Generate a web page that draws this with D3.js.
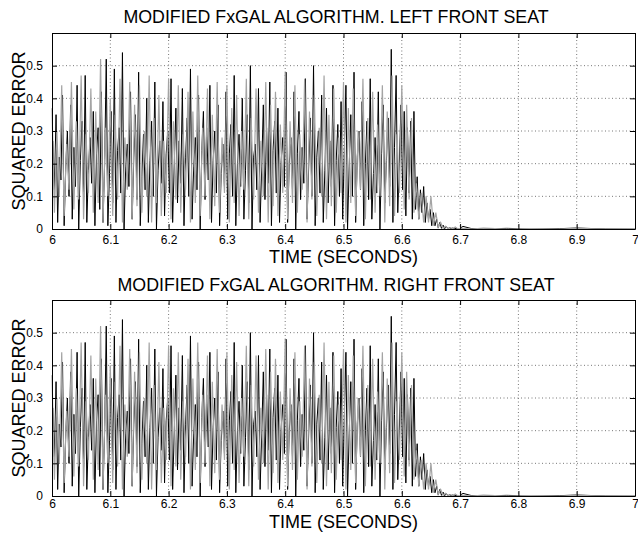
<!DOCTYPE html>
<html>
<head>
<meta charset="utf-8">
<script src="https://cdn.jsdelivr.net/npm/d3@7"></script>
<style>
body { margin: 0; background: #fff; }
text { font-family: "Liberation Sans", Arial, sans-serif; fill: #000; }
</style>
</head>
<body>
<script>
const titles = ["MODIFIED FxGAL ALGORITHM. LEFT FRONT SEAT",
                "MODIFIED FxGAL ALGORITHM. RIGHT FRONT SEAT"];
const xTickValues = [6, 6.1, 6.2, 6.3, 6.4, 6.5, 6.6, 6.7, 6.8, 6.9, 7];
const xTickLabels = ["6", "6.1", "6.2", "6.3", "6.4", "6.5", "6.6", "6.7", "6.8", "6.9", "7"];
const yTickValues = [0, 0.1, 0.2, 0.3, 0.4, 0.5];
const yTickLabels = ["0", "0.1", "0.2", "0.3", "0.4", "0.5"];

// sample grid: gray trace 24 samples per 0.1 s, black trace 36 per 0.1 s, from 6 s
const sampleStart = 6;
const grayStep = 0.1 / 24, blackStep = 0.1 / 36;

// gray trace (both seats look the same)
const grayErr = [
  0.37,0.05,0.30,0.10,0.44,0.04,0.26,0.12,0.45,0.06,0.33,0.09,0.47,0.03,0.29,0.11,0.43,0.05,0.36,0.08,0.52,0.02,0.31,0.10,
  0.40,0.04,0.35,0.09,0.46,0.02,0.28,0.12,0.45,0.03,0.38,0.07,0.44,0.05,0.30,0.10,0.47,0.02,0.34,0.08,0.41,0.04,0.27,0.11,
  0.46,0.03,0.33,0.09,0.44,0.05,0.29,0.12,0.42,0.02,0.36,0.08,0.47,0.04,0.31,0.10,0.43,0.03,0.35,0.07,0.45,0.05,0.28,0.11,
  0.44,0.02,0.37,0.08,0.41,0.04,0.30,0.12,0.46,0.03,0.34,0.09,0.43,0.05,0.27,0.10,0.45,0.02,0.38,0.07,0.42,0.04,0.32,0.11,
  0.48,0.03,0.33,0.08,0.44,0.05,0.29,0.12,0.46,0.02,0.36,0.09,0.41,0.04,0.31,0.10,0.47,0.03,0.35,0.07,0.43,0.05,0.28,0.11,
  0.45,0.02,0.37,0.08,0.43,0.04,0.30,0.12,0.46,0.03,0.34,0.09,0.42,0.05,0.32,0.10,0.44,0.02,0.36,0.07,0.47,0.04,0.29,0.11,
  0.44,0.06,0.38,0.09,0.34,0.05,0.14,0.03,0.11,0.02,0.10,0.02,0.10,0.01,0.05,0.005,0.02,0.002,0.008,0.001,0.004,0.001,0.006,0.001
];

// black trace
const blackErr = [
  0.27,0.12,0.35,0.02,0.22,0.15,0.41,0.01,0.19,0.30,0.10,0.38,0.03,0.25,0.13,0.44,0.00,0.21,0.33,0.09,0.47,0.02,0.18,0.28,0.14,0.36,0.01,0.23,0.31,0.06,0.42,0.02,0.20,0.52,0.01,0.17,
  0.36,0.08,0.49,0.02,0.24,0.31,0.11,0.54,0.00,0.19,0.26,0.13,0.42,0.03,0.22,0.35,0.09,0.48,0.01,0.16,0.29,0.12,0.40,0.02,0.21,0.33,0.10,0.45,0.00,0.18,0.27,0.14,0.39,0.04,0.23,0.30,
  0.11,0.46,0.02,0.20,0.37,0.08,0.27,0.14,0.43,0.01,0.22,0.34,0.10,0.49,0.03,0.19,0.28,0.12,0.41,0.00,0.24,0.36,0.09,0.31,0.15,0.44,0.02,0.21,0.30,0.11,0.38,0.01,0.17,0.26,0.13,0.42,
  0.03,0.23,0.32,0.10,0.47,0.01,0.20,0.29,0.13,0.40,0.03,0.18,0.35,0.08,0.50,0.00,0.22,0.26,0.12,0.43,0.02,0.19,0.38,0.09,0.31,0.14,0.45,0.01,0.24,0.33,0.11,0.37,0.02,0.21,0.28,0.13,
  0.48,0.02,0.20,0.28,0.12,0.42,0.00,0.23,0.36,0.09,0.25,0.14,0.46,0.03,0.19,0.34,0.10,0.50,0.01,0.22,0.30,0.11,0.41,0.02,0.18,0.37,0.08,0.27,0.13,0.44,0.01,0.21,0.32,0.10,0.39,0.03,
  0.24,0.44,0.00,0.19,0.35,0.10,0.48,0.02,0.22,0.30,0.12,0.39,0.01,0.20,0.33,0.09,0.46,0.03,0.17,0.28,0.11,0.42,0.00,0.23,0.38,0.08,0.21,0.34,0.13,0.55,0.02,0.25,0.47,0.05,0.20,0.38,
  0.12,0.36,0.04,0.31,0.11,0.33,0.03,0.36,0.06,0.16,0.03,0.12,0.05,0.13,0.02,0.08,0.03,0.06,0.01,0.05,0.01,0.03,0.004,0.02,0.002,0.012,0.001,0.007,0.001,0.004,0.001,0.003,0.001,0.002,0.001,0.001
];

// flat tail after the error has died out
const tailTimes = [6.705, 6.72, 6.74, 6.78, 6.82, 6.87, 6.9, 6.95, 7.0];
const tailGray  = [0.002, 0.000, 0.003, 0.000, 0.001, 0.000, 0.002, 0.000, 0.001];
const tailBlack = [0.008, 0.001, 0.000, 0.002, 0.000, 0.001, 0.003, 0.000, 0.000];

const width = 638, height = 536;
const left = 52, right = 635;

const panels = [
  {top: 33, bottom: 229, pad: 6, titleY: 23,  labelY: 263},
  {top: 300, bottom: 496, pad: 3, titleY: 291, labelY: 528}
];

const svg = d3.select("body").append("svg")
    .attr("width", width)
    .attr("height", height);

let grayPts = grayErr.map((v, i) => [sampleStart + i * grayStep, v])
    .concat(tailTimes.map((t, i) => [t, tailGray[i]]));
let blackPts = blackErr.map((v, i) => [sampleStart + (i + 0.5) * blackStep, v])
    .concat(tailTimes.map((t, i) => [t, tailBlack[i]]));

let xScale = d3.scaleLinear().domain([6, 7]).range([left, right]);

panels.forEach((p, k) => {
    let yScale = d3.scaleLinear().domain([0, 0.6]).range([p.bottom, p.top]);
    let g = svg.append("g");

    // dotted grid
    g.selectAll(".vgrid")
        .data(xTickValues.slice(1, -1))
        .enter().append("line")
            .attr("x1", d => xScale(d)).attr("x2", d => xScale(d))
            .attr("y1", p.top).attr("y2", p.bottom)
            .attr("stroke", "#777").attr("stroke-dasharray", "1,2.5");
    g.selectAll(".hgrid")
        .data(yTickValues.slice(1))
        .enter().append("line")
            .attr("x1", left).attr("x2", right)
            .attr("y1", d => yScale(d)).attr("y2", d => yScale(d))
            .attr("stroke", "#777").attr("stroke-dasharray", "1,2.5");

    let line = d3.line().x(d => xScale(d[0])).y(d => yScale(d[1]));

    g.append("path").datum(blackPts)
        .attr("d", line).attr("fill", "none")
        .attr("stroke", "#000").attr("stroke-width", 1);
    g.append("path").datum(grayPts)
        .attr("d", line).attr("fill", "none")
        .attr("stroke", "#a4a4a4").attr("stroke-width", 1.2);

    // axes, matlab style ticks inside the box
    const xAxis = d3.axisBottom(xScale)
        .tickValues(xTickValues)
        .tickFormat((d, i) => xTickLabels[i])
        .tickSize(-5).tickSizeOuter(0).tickPadding(p.pad);
    const yAxis = d3.axisLeft(yScale)
        .tickValues(yTickValues)
        .tickFormat((d, i) => yTickLabels[i])
        .tickSize(-5).tickSizeOuter(0).tickPadding(9);

    g.append("g").attr("transform", `translate(0,${p.bottom})`).call(xAxis);
    g.append("g").attr("transform", `translate(${left},0)`).call(yAxis);
    g.append("g").attr("transform", `translate(0,${p.top})`)
        .call(d3.axisTop(xScale).tickValues(xTickValues).tickFormat("").tickSize(-5).tickSizeOuter(0));
    g.append("g").attr("transform", `translate(${right},0)`)
        .call(d3.axisRight(yScale).tickValues(yTickValues.concat([0.6])).tickFormat("").tickSize(-5).tickSizeOuter(0));

    g.selectAll(".tick text")
        .style("font-family", '"Liberation Sans", Arial, sans-serif')
        .style("font-size", "12px");
    g.selectAll(".domain, .tick line").attr("stroke", "#000");

    g.append("text")
        .attr("x", 336).attr("y", p.titleY)
        .attr("text-anchor", "middle")
        .style("font-size", "17.8px")
        .text(titles[k]);

    g.append("text")
        .attr("x", (left + right) / 2).attr("y", p.labelY)
        .attr("text-anchor", "middle")
        .style("font-size", "18px")
        .text("TIME (SECONDS)");

    g.append("text")
        .attr("transform", `translate(25,${(p.top + p.bottom) / 2}) rotate(-90)`)
        .attr("text-anchor", "middle")
        .style("font-size", "18px")
        .text("SQUARED ERROR");
});
</script>
</body>
</html>
